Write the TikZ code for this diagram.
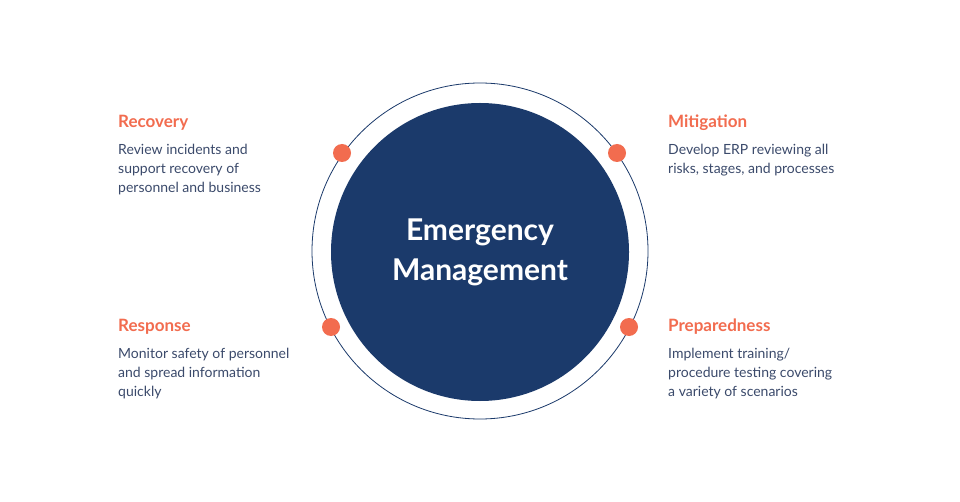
\documentclass[tikz,border=0pt]{standalone}
\usepackage{fontspec}
\setmainfont{Lato}
\definecolor{navy}{HTML}{1B3A6B}
\definecolor{orng}{HTML}{F26C4F}
\definecolor{txt}{HTML}{3B4A6B}
\begin{document}
\begin{tikzpicture}[x=1pt,y=-1pt,
  head/.style={anchor=west,text=orng,font=\fontsize{17}{20}\selectfont\bfseries,inner sep=0pt},
  body/.style={anchor=north west,text=txt,font=\fontsize{14}{19}\selectfont,align=left,inner sep=0pt},
  dot/.style={circle,fill=orng,minimum size=18pt,inner sep=0pt}]
\useasboundingbox[fill=white] (0,0) rectangle (960,502);
\node[circle,draw=navy,line width=0.8pt,minimum size=336pt,inner sep=0pt] (ring) at (480,251) {};
\node[circle,fill=navy,minimum size=298pt,inner sep=0pt,text=white,align=center,
  font=\fontsize{30}{40}\selectfont\bfseries] (core) at (480,252) {Emergency\\Management};
\node[dot] (d1) at (342,153) {};
\node[dot] (d2) at (617,153) {};
\node[dot] (d3) at (331,327) {};
\node[dot] (d4) at (629,327) {};
\node[head] (h1) at (118,123) {Recovery};
\node[body] (b1) at (118,144) {Review incidents and\\support recovery of\\personnel and business};
\node[head] (h2) at (668,123) {Mitigation};
\node[body] (b2) at (668,144) {Develop ERP reviewing all\\risks, stages, and processes};
\node[head] (h3) at (118,327) {Response};
\node[body] (b3) at (118,348) {Monitor safety of personnel\\and spread information\\quickly};
\node[head] (h4) at (668,327) {Preparedness};
\node[body] (b4) at (668,348) {Implement training/\\procedure testing covering\\a variety of scenarios};
\end{tikzpicture}
\end{document}
